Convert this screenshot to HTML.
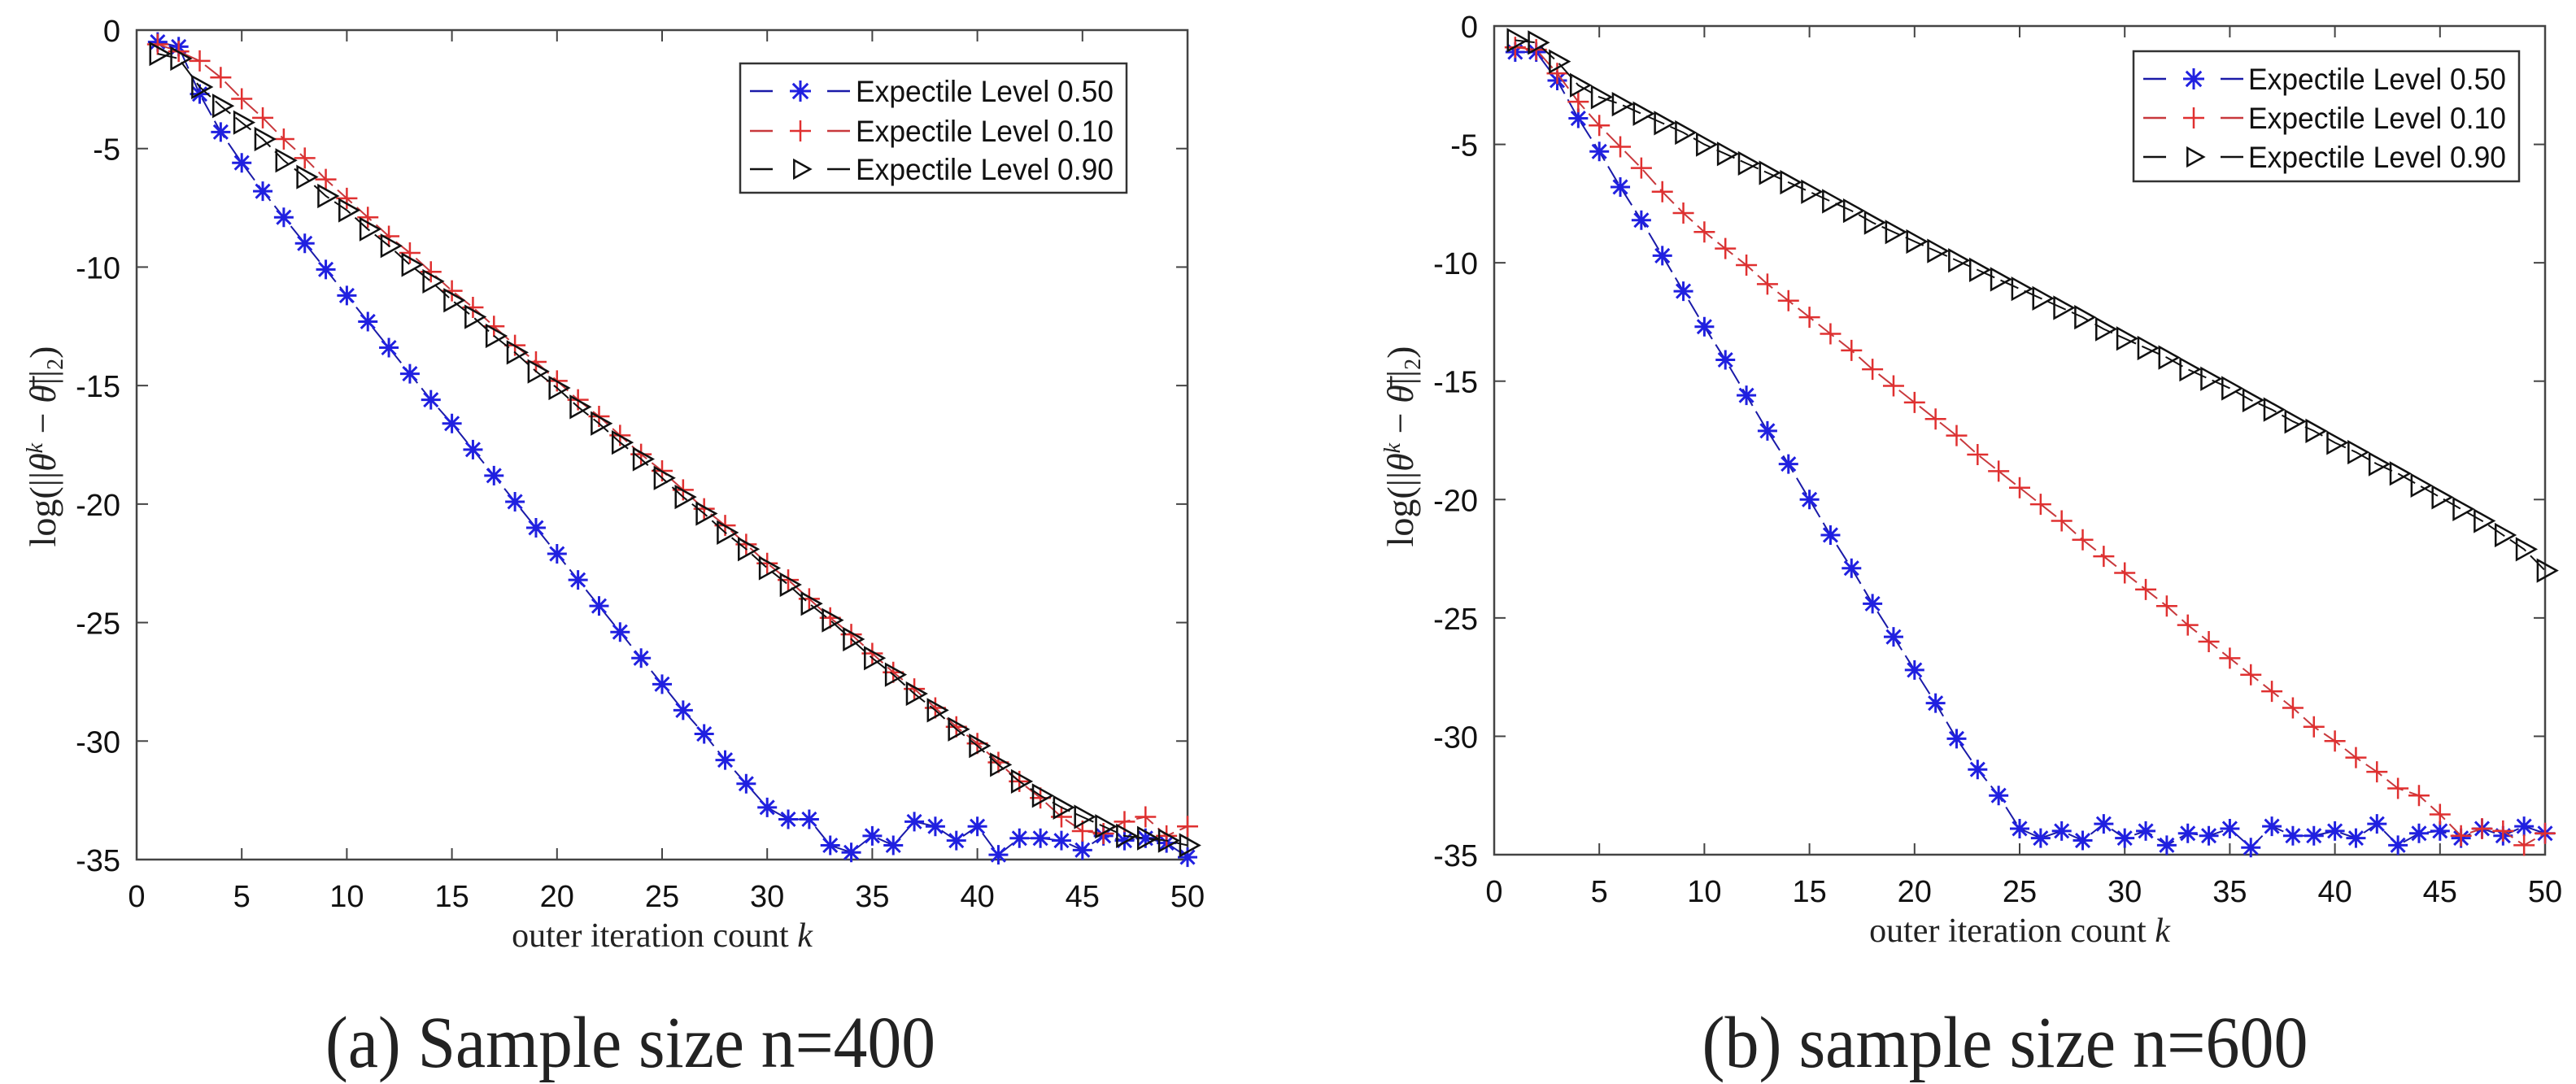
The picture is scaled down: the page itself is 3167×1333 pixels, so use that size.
<!DOCTYPE html>
<html><head><meta charset="utf-8"><style>
html,body{margin:0;padding:0;background:#fff;}
svg{display:block;}
</style></head><body>
<svg id="fig" width="3167" height="1333" viewBox="0 0 3167 1333" xmlns="http://www.w3.org/2000/svg">
</svg>
<script>
const iterK = Array.from({length:50},(_,i)=>i+1);
const xTicks = [0,5,10,15,20,25,30,35,40,45,50];
const yTicks = [0,-5,-10,-15,-20,-25,-30,-35];
const seriesLabels = ["Expectile Level 0.50","Expectile Level 0.10","Expectile Level 0.90"];
// Panel (a) n=400
const a_lvl050 = [-0.5,-0.7,-2.7,-4.3,-5.6,-6.8,-7.9,-9.0,-10.1,-11.2,-12.3,-13.4,-14.5,-15.6,-16.6,-17.7,-18.8,-19.9,-21.0,-22.1,-23.2,-24.3,-25.4,-26.5,-27.6,-28.7,-29.7,-30.8,-31.8,-32.8,-33.3,-33.3,-34.4,-34.7,-34.0,-34.4,-33.4,-33.6,-34.2,-33.6,-34.8,-34.1,-34.1,-34.2,-34.6,-34.0,-34.2,-34.1,-34.3,-34.9];
const a_lvl010 = [-0.6,-0.9,-1.3,-2.0,-2.9,-3.7,-4.6,-5.4,-6.3,-7.1,-7.9,-8.7,-9.4,-10.2,-11.0,-11.7,-12.5,-13.3,-14.0,-14.8,-15.6,-16.3,-17.1,-17.9,-18.6,-19.4,-20.2,-20.9,-21.7,-22.5,-23.2,-24.0,-24.8,-25.5,-26.3,-27.1,-27.8,-28.6,-29.4,-30.1,-30.9,-31.7,-32.4,-33.2,-33.8,-33.9,-33.4,-33.2,-34.0,-33.6];
const a_lvl090 = [-1.0,-1.2,-2.4,-3.2,-3.9,-4.6,-5.5,-6.2,-7.0,-7.6,-8.4,-9.1,-9.9,-10.6,-11.4,-12.1,-12.9,-13.6,-14.4,-15.1,-15.9,-16.6,-17.4,-18.1,-18.9,-19.7,-20.4,-21.2,-21.9,-22.7,-23.4,-24.2,-24.9,-25.7,-26.5,-27.2,-28.0,-28.7,-29.5,-30.2,-31.0,-31.7,-32.3,-32.8,-33.2,-33.6,-34.0,-34.1,-34.2,-34.4];
// Panel (b) n=600
const b_lvl050 = [-1.1,-1.1,-2.3,-3.9,-5.3,-6.8,-8.2,-9.7,-11.2,-12.7,-14.1,-15.6,-17.1,-18.5,-20.0,-21.5,-22.9,-24.4,-25.8,-27.2,-28.6,-30.1,-31.4,-32.5,-33.9,-34.3,-34.0,-34.4,-33.7,-34.3,-34.0,-34.6,-34.1,-34.2,-33.9,-34.7,-33.8,-34.2,-34.2,-34.0,-34.3,-33.7,-34.6,-34.1,-34.0,-34.3,-33.9,-34.2,-33.8,-34.1];
const b_lvl010 = [-0.9,-1.0,-2.0,-3.2,-4.2,-5.1,-6.0,-7.0,-7.9,-8.7,-9.4,-10.1,-10.9,-11.6,-12.3,-13.0,-13.7,-14.5,-15.2,-15.9,-16.6,-17.3,-18.1,-18.8,-19.5,-20.2,-20.9,-21.7,-22.4,-23.1,-23.8,-24.5,-25.3,-26.0,-26.7,-27.4,-28.1,-28.8,-29.6,-30.2,-30.9,-31.5,-32.2,-32.5,-33.3,-34.2,-33.9,-34.0,-34.6,-34.1];
const b_lvl090 = [-0.6,-0.7,-1.5,-2.5,-3.0,-3.3,-3.7,-4.1,-4.5,-5.0,-5.4,-5.8,-6.2,-6.6,-7.0,-7.4,-7.8,-8.3,-8.7,-9.1,-9.5,-9.9,-10.3,-10.7,-11.1,-11.5,-11.9,-12.3,-12.8,-13.2,-13.6,-14.0,-14.5,-14.9,-15.3,-15.8,-16.2,-16.7,-17.1,-17.6,-18.0,-18.5,-18.9,-19.4,-19.9,-20.4,-20.9,-21.5,-22.1,-23.0];
const panelCaptions = ["(a) Sample size n=400","(b) sample size n=600"];

const NS="http://www.w3.org/2000/svg";
const svg=document.getElementById('fig');
function mk(tag,attrs,parent){const e=document.createElementNS(NS,tag);for(const k in attrs)e.setAttribute(k,attrs[k]);(parent||svg).appendChild(e);return e;}

const colors=["#1a1aa8","#c8383c","#111"];
const markerCols=["#2020e0","#e03030","#111"];

function marker(g,type,x,y,s){
  if(type===0){
    let d="";for(let i=0;i<4;i++){const a=i*Math.PI/4;const dx=Math.cos(a)*s,dy=Math.sin(a)*s;d+=`M${x-dx},${y-dy}L${x+dx},${y+dy}`;}
    return mk('path',{d:d,stroke:markerCols[0],'stroke-width':3,fill:'none'},g);
  } else if(type===1){
    return mk('path',{d:`M${x-s},${y}L${x+s},${y}M${x},${y-s}L${x},${y+s}`,stroke:markerCols[1],'stroke-width':2.5,fill:'none'},g);
  } else {
    return mk('path',{d:`M${x-s*0.7},${y-s}L${x+s*1.1},${y}L${x-s*0.7},${y+s}Z`,stroke:'#111','stroke-width':2.5,fill:'none'},g);
  }
}

function panel(idx,L,R,T,B,data,legend){
  const g=mk('g',{});
  
  
  const xs=v=>L+(v-0)/50*(R-L);
  const ys=v=>T+(0-v)/35*(B-T);
  const box=mk('rect',{x:L,y:T,width:R-L,height:B-T,fill:'none',stroke:'#444','stroke-width':2.5},g);
  
  
  xTicks.forEach(t=>{
    const x=xs(t);
    mk('line',{x1:x,y1:B,x2:x,y2:B-14,stroke:'#444','stroke-width':2},g);
    mk('line',{x1:x,y1:T,x2:x,y2:T+14,stroke:'#444','stroke-width':2},g);
    const tx=mk('text',{x:x,y:B+58,'font-family':'Liberation Sans, sans-serif','font-size':38,'text-anchor':'middle',fill:'#111'},g);
    tx.textContent=t;
    
    
  });
  yTicks.forEach(t=>{
    const y=ys(t);
    mk('line',{x1:L,y1:y,x2:L+14,y2:y,stroke:'#444','stroke-width':2},g);
    mk('line',{x1:R,y1:y,x2:R-14,y2:y,stroke:'#444','stroke-width':2},g);
    const ty=mk('text',{x:L-20,y:y+14,'font-family':'Liberation Sans, sans-serif','font-size':38,'text-anchor':'end',fill:'#111'},g);
    ty.textContent=t;
    
    
  });
  const xl=mk('text',{x:(L+R)/2,y:B+107,'font-family':'Liberation Serif, serif','font-size':42,'text-anchor':'middle',fill:'#222'},g);
  xl.innerHTML='outer iteration count <tspan font-style="italic">k</tspan>';
  
  
  const ylx=L-100, yly=549;
  const yl=mk('text',{x:ylx,y:yly,'font-family':'Liberation Serif, serif','font-size':46,'text-anchor':'middle',fill:'#222',transform:`rotate(-90 ${ylx} ${yly})`},g);
  yl.innerHTML='log(||<tspan font-style="italic">θ</tspan><tspan font-size="28" dy="-16" font-style="italic">k</tspan><tspan dy="16"> − </tspan><tspan font-style="italic">θ̄</tspan>||<tspan font-size="28" dy="9">2</tspan><tspan dy="-9">)</tspan>';
  
  
  const names=['series-level-050','series-level-010','series-level-090'];
  const sizes=[12,13,13];
  data.forEach((arr,si)=>{
    const sg=mk('g',{},g);
    
    
    const pts=arr.map((v,i)=>xs(iterK[i])+','+ys(v)).join(' ');
    mk('polyline',{points:pts,fill:'none',stroke:colors[si],'stroke-width':2,'stroke-dasharray':'24,8'},sg);
    arr.forEach((v,i)=>{
      const m=marker(sg,si,xs(iterK[i]),ys(v),sizes[si]);
      
      
    });
  });
  const lg=mk('g',{},g);
  
  
  mk('rect',{x:legend.x,y:legend.y,width:legend.w,height:legend.h,fill:'#fff',stroke:'#333','stroke-width':2.5},lg);
  seriesLabels.forEach((lab,si)=>{
    const ry=legend.rows[si];
    const e=mk('g',{},lg);
    
    
    const x0=legend.x+12;
    mk('line',{x1:x0,y1:ry,x2:x0+28,y2:ry,stroke:colors[si],'stroke-width':2.5},e);
    mk('line',{x1:x0+95,y1:ry,x2:x0+123,y2:ry,stroke:colors[si],'stroke-width':2.5},e);
    marker(e,si,x0+62,ry,si===2?11:13);
    const t=mk('text',{x:legend.tx,y:ry+13,'font-family':'Liberation Sans, sans-serif','font-size':37,fill:'#111',textLength:317,lengthAdjust:'spacingAndGlyphs'},e);
    t.textContent=lab;
  });
  const c=mk('text',{x:legend.cx,y:1312,'font-family':'Liberation Serif, serif','font-size':90,'text-anchor':'middle',fill:'#222',textLength:legend.cw,lengthAdjust:'spacingAndGlyphs'},svg);
  c.textContent=panelCaptions[idx];
  
  
}

panel(0,168,1460,37,1057,[a_lvl050,a_lvl010,a_lvl090],{x:910,y:78,w:475,h:159,rows:[112,161,208],tx:1052,cx:775,cw:750});
panel(1,1837,3129,32,1051,[b_lvl050,b_lvl010,b_lvl090],{x:2623,y:63,w:474,h:160,rows:[97,145,193],tx:2764,cx:2465,cw:745});
</script>
</body></html>
